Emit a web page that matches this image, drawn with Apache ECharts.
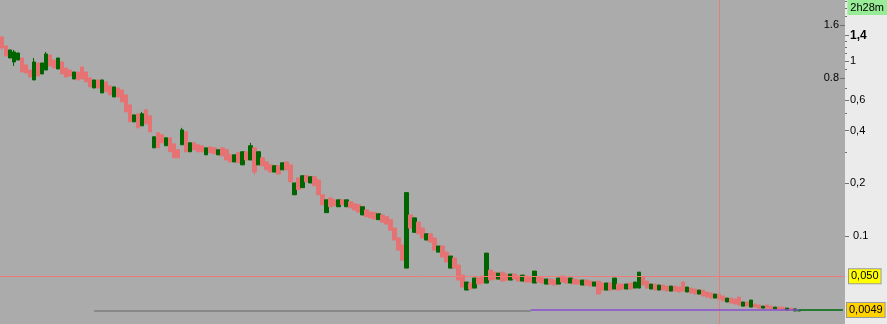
<!DOCTYPE html>
<html><head><meta charset="utf-8">
<script src="https://cdn.jsdelivr.net/npm/echarts@6/dist/echarts.min.js"></script>
<style>html,body{margin:0;padding:0;background:#ebebeb}#c{width:887px;height:324px}</style>
</head><body><div id="c"></div>
<script>
// ---- data (prices) ----
const openPrices = [
1.371,1.218,1.040,0.987,1.013,1.040,0.949,0.888,0.779,0.974,
0.843,0.888,1.082,1.013,0.900,0.987,0.912,0.888,0.789,0.865,
0.924,0.865,0.800,0.701,0.779,0.657,0.759,0.720,0.623,0.701,
0.683,0.640,0.561,0.449,0.499,0.426,0.526,0.486,0.319,0.389,
0.379,0.328,0.364,0.336,0.311,0.332,0.394,0.303,0.341,0.332,
0.328,0.291,0.323,0.319,0.291,0.319,0.311,0.291,0.265,0.299,
0.255,0.303,0.272,0.319,0.255,0.280,0.265,0.255,0.232,0.252,
0.239,0.265,0.255,0.172,0.215,0.189,0.221,0.201,0.218,0.209,
0.172,0.136,0.165,0.161,0.147,0.161,0.147,0.157,0.153,0.151,
0.132,0.141,0.137,0.136,0.124,0.132,0.129,0.124,0.111,0.0966,
0.0855,0.0574,0.132,0.105,0.120,0.111,0.0933,0.103,0.0966,0.0757,
0.0841,0.0757,0.0574,0.0683,0.0605,0.0508,0.0192,0.0310,0.0220,0.0436,
0.0500,0.0310,0.0554,0.0535,0.0407,0.0535,0.0517,0.0380,0.0517,0.0500,
0.0355,0.0500,0.0467,0.0310,0.0467,0.0436,0.0289,0.0407,0.0380,0.0289,
0.0500,0.0436,0.0310,0.0407,0.0380,0.0270,0.0380,0.0355,0.0252,0.0355,
0.0310,0.0192,0.0310,0.0206,0.0289,0.0289,0.0206,0.0310,0.0220,0.0220,
0.0467,0.0355,0.0206,0.0289,0.0192,0.0270,0.0252,0.0179,0.0252,0.0236,
0.0332,0.0168,0.0220,0.0206,0.0146,0.0192,0.0168,0.0157,0.0111,0.0146,
0.0128,0.0085,0.0111,0.0104,0.0119,0.0064,0.0085,0.0060,0.0074,0.0069,
0.0056,0.0069,0.0064,0.0053,0.0060,0.0060,0.0049,0.0056,0.0046,0.0046
];
const closePrices = [
1.187,1.068,1.156,1.126,1.111,0.865,0.854,0.810,0.987,0.821,
0.974,1.096,0.936,0.912,1.040,0.843,0.810,0.821,0.865,0.779,
0.789,0.759,0.711,0.779,0.701,0.779,0.666,0.640,0.711,0.623,
0.584,0.512,0.449,0.492,0.415,0.499,0.437,0.394,0.369,0.319,
0.341,0.364,0.303,0.280,0.280,0.404,0.303,0.341,0.311,0.303,
0.303,0.319,0.299,0.295,0.311,0.287,0.272,0.265,0.291,0.262,
0.303,0.272,0.328,0.232,0.303,0.252,0.239,0.232,0.252,0.226,
0.262,0.239,0.204,0.201,0.184,0.221,0.204,0.218,0.194,0.172,
0.151,0.161,0.147,0.149,0.161,0.151,0.161,0.145,0.141,0.137,
0.147,0.129,0.127,0.125,0.134,0.120,0.117,0.108,0.0933,0.0784,
0.0659,0.177,0.111,0.127,0.103,0.0966,0.103,0.0901,0.0784,0.0841,
0.0695,0.0637,0.0707,0.0574,0.0380,0.0236,0.0332,0.0206,0.0436,0.0289,
0.0310,0.0744,0.0380,0.0407,0.0526,0.0355,0.0380,0.0517,0.0407,0.0355,
0.0508,0.0332,0.0332,0.0545,0.0332,0.0310,0.0407,0.0289,0.0270,0.0436,
0.0332,0.0310,0.0436,0.0289,0.0289,0.0380,0.0270,0.0252,0.0332,0.0146,
0.0192,0.0310,0.0192,0.0436,0.0192,0.0206,0.0289,0.0206,0.0332,0.0535,
0.0270,0.0220,0.0289,0.0192,0.0270,0.0192,0.0179,0.0252,0.0179,0.0168,
0.0179,0.0236,0.0157,0.0146,0.0192,0.0128,0.0119,0.0111,0.0146,0.0104,
0.0091,0.0111,0.0079,0.0074,0.0069,0.0085,0.0064,0.0097,0.0060,0.0056,
0.0064,0.0056,0.0053,0.0060,0.0053,0.0049,0.0056,0.0049,0.0053,0.0049
];
// wicks that reach beyond the body: [candle index, price]
const highWicks = [[0,1.390],[3,1.156],[8,1.040],[11,1.126],[35,0.512],[45,0.415],[62,0.341]];
const lowWicks = [[0,1.156],[3,0.936],[63,0.223]];

const slotCount = 211;                 // candle slots across the plot, incl. empty space at right
const alertLevel = 0.050, alertText = '0,050';
const lastPrice = 0.0049, lastText = '0,0049';
const purpleLevel = 0.0051, purpleFrom = 132;
const greyLevel = 0.0048, greyFrom = 23, greyTo = 132;
const cursorIndex = 179;
const timerText = '2h28m';

const rightLabelValues = [1.4, 1, 0.6, 0.4, 0.2, 0.1];
const rightLabelTexts  = ['1,4', '1', '0,6', '0,4', '0,2', ' 0.1'];
const boldLabel = '1,4';
const leftLabelValues = [1.6, 0.8];
const leftLabelTexts  = ['1.6', '0.8'];
const minorTickValues = [2.2, 2.0, 1.8, 1.3, 1.2, 1.1, 0.9, 0.7, 0.5, 0.3];
const axisTopPrice = 2.23, axisBottomPrice = 0.00189;

// ---- price scale of the source chart: logarithmic, compressed below 0.1 ----
function f(v){
  const l = Math.log10(v);
  if (v >= 0.1) return l;
  if (v >= 0.05) return -1 + (l + 1) * 0.75930;
  return -1.228571 + (l + 1.30103) * 0.192599;
}

const cats = Array.from({length: slotCount}, (_, i) => String(i));
const hiMap = {}; highWicks.forEach(([i, v]) => hiMap[i] = v);
const loMap = {}; lowWicks.forEach(([i, v]) => loMap[i] = v);
const candles = openPrices.map((o, i) => {
  const c = closePrices[i];
  const lo = loMap[i] !== undefined ? loMap[i] : Math.min(o, c);
  const hi = hiMap[i] !== undefined ? hiMap[i] : Math.max(o, c);
  return [f(o), f(c), f(lo), f(hi)];
});

function labelFn(vals, texts){
  return function(val){
    for (let i = 0; i < vals.length; i++) {
      if (Math.abs(f(vals[i]) - val) < 1e-6) {
        return texts[i] === boldLabel ? '{b|' + texts[i] + '}' : '{n|' + texts[i] + '}';
      }
    }
    return '';
  };
}
const FONT = 'Liberation Sans, Arial, sans-serif';
const rich = { n: {fontSize: 11, color: '#000', fontFamily: FONT}, b: {fontSize: 12, fontWeight: 'bold', color: '#000', fontFamily: FONT} };
const yMin = f(axisBottomPrice), yMax = f(axisTopPrice);

const boxLabel = (text, bg) => ({
  show: true, position: 'end', distance: 4, formatter: text,
  color: '#000', fontSize: 11, fontFamily: FONT,
  backgroundColor: bg, borderColor: '#9a9a9a', borderWidth: 1, padding: [2, 2, 1, 2]
});

const chart = echarts.init(document.getElementById('c'), null, {renderer: 'canvas'});
chart.setOption({
  animation: false,
  backgroundColor: '#ebebeb',
  grid: {left: 0, right: 42, top: 0, bottom: 0, show: true, backgroundColor: '#ababab', borderWidth: 0},
  xAxis: {type: 'category', data: cats, show: false, boundaryGap: true},
  yAxis: [
    {type: 'value', position: 'right', min: yMin, max: yMax, splitLine: {show: false}, axisLine: {show: false},
     axisTick: {show: true, length: 4, customValues: rightLabelValues.map(f), lineStyle: {color: '#707070'}},
     axisLabel: {show: true, margin: 5, customValues: rightLabelValues.map(f), formatter: labelFn(rightLabelValues, rightLabelTexts), rich: rich}},
    {type: 'value', position: 'right', min: yMin, max: yMax, splitLine: {show: false}, axisLine: {show: false},
     axisTick: {show: true, inside: true, length: 5, customValues: leftLabelValues.map(f), lineStyle: {color: '#707070'}},
     axisLabel: {show: true, inside: true, margin: 6, customValues: leftLabelValues.map(f), formatter: labelFn(leftLabelValues, leftLabelTexts), rich: rich}},
    {type: 'value', position: 'right', min: yMin, max: yMax, splitLine: {show: false}, axisLine: {show: false},
     axisTick: {show: true, length: 2, customValues: minorTickValues.map(f), lineStyle: {color: '#707070'}},
     axisLabel: {show: false}}
  ],
  series: [{
    type: 'candlestick',
    data: candles,
    barWidth: 4,
    itemStyle: {color: '#006400', color0: '#e57373', borderColor: '#006400', borderColor0: '#e57373', borderWidth: 1},
    markLine: {
      silent: true, symbol: ['none', 'none'], animation: false,
      label: {show: false},
      data: [
        {yAxis: f(alertLevel), lineStyle: {color: '#ef7b7b', width: 1, type: 'solid'}, label: boxLabel(alertText, '#ffff00')},
        {xAxis: cursorIndex, lineStyle: {color: '#dc8080', width: 1, type: 'solid'}},
        [{coord: [greyFrom, f(greyLevel)], lineStyle: {color: '#7c7c7c', width: 1.5, type: 'solid'}}, {coord: [greyTo, f(greyLevel)]}],
        [{coord: [purpleFrom, f(purpleLevel)], lineStyle: {color: '#8a4fd0', width: 1.5, type: 'solid'}}, {coord: [slotCount - 1, f(purpleLevel)]}],
        [{coord: [openPrices.length - 1, f(lastPrice)], lineStyle: {color: '#008000', width: 1.5, type: 'solid'}, label: boxLabel(lastText, '#ffd200')}, {coord: [slotCount - 1, f(lastPrice)]}]
      ]
    }
  }],
  graphic: [{
    type: 'text', right: 0, top: 0,
    style: {text: timerText, fill: '#000', font: '11px ' + FONT, backgroundColor: '#98ec98', padding: [2, 3, 2, 3]}
  }]
});
</script></body></html>
